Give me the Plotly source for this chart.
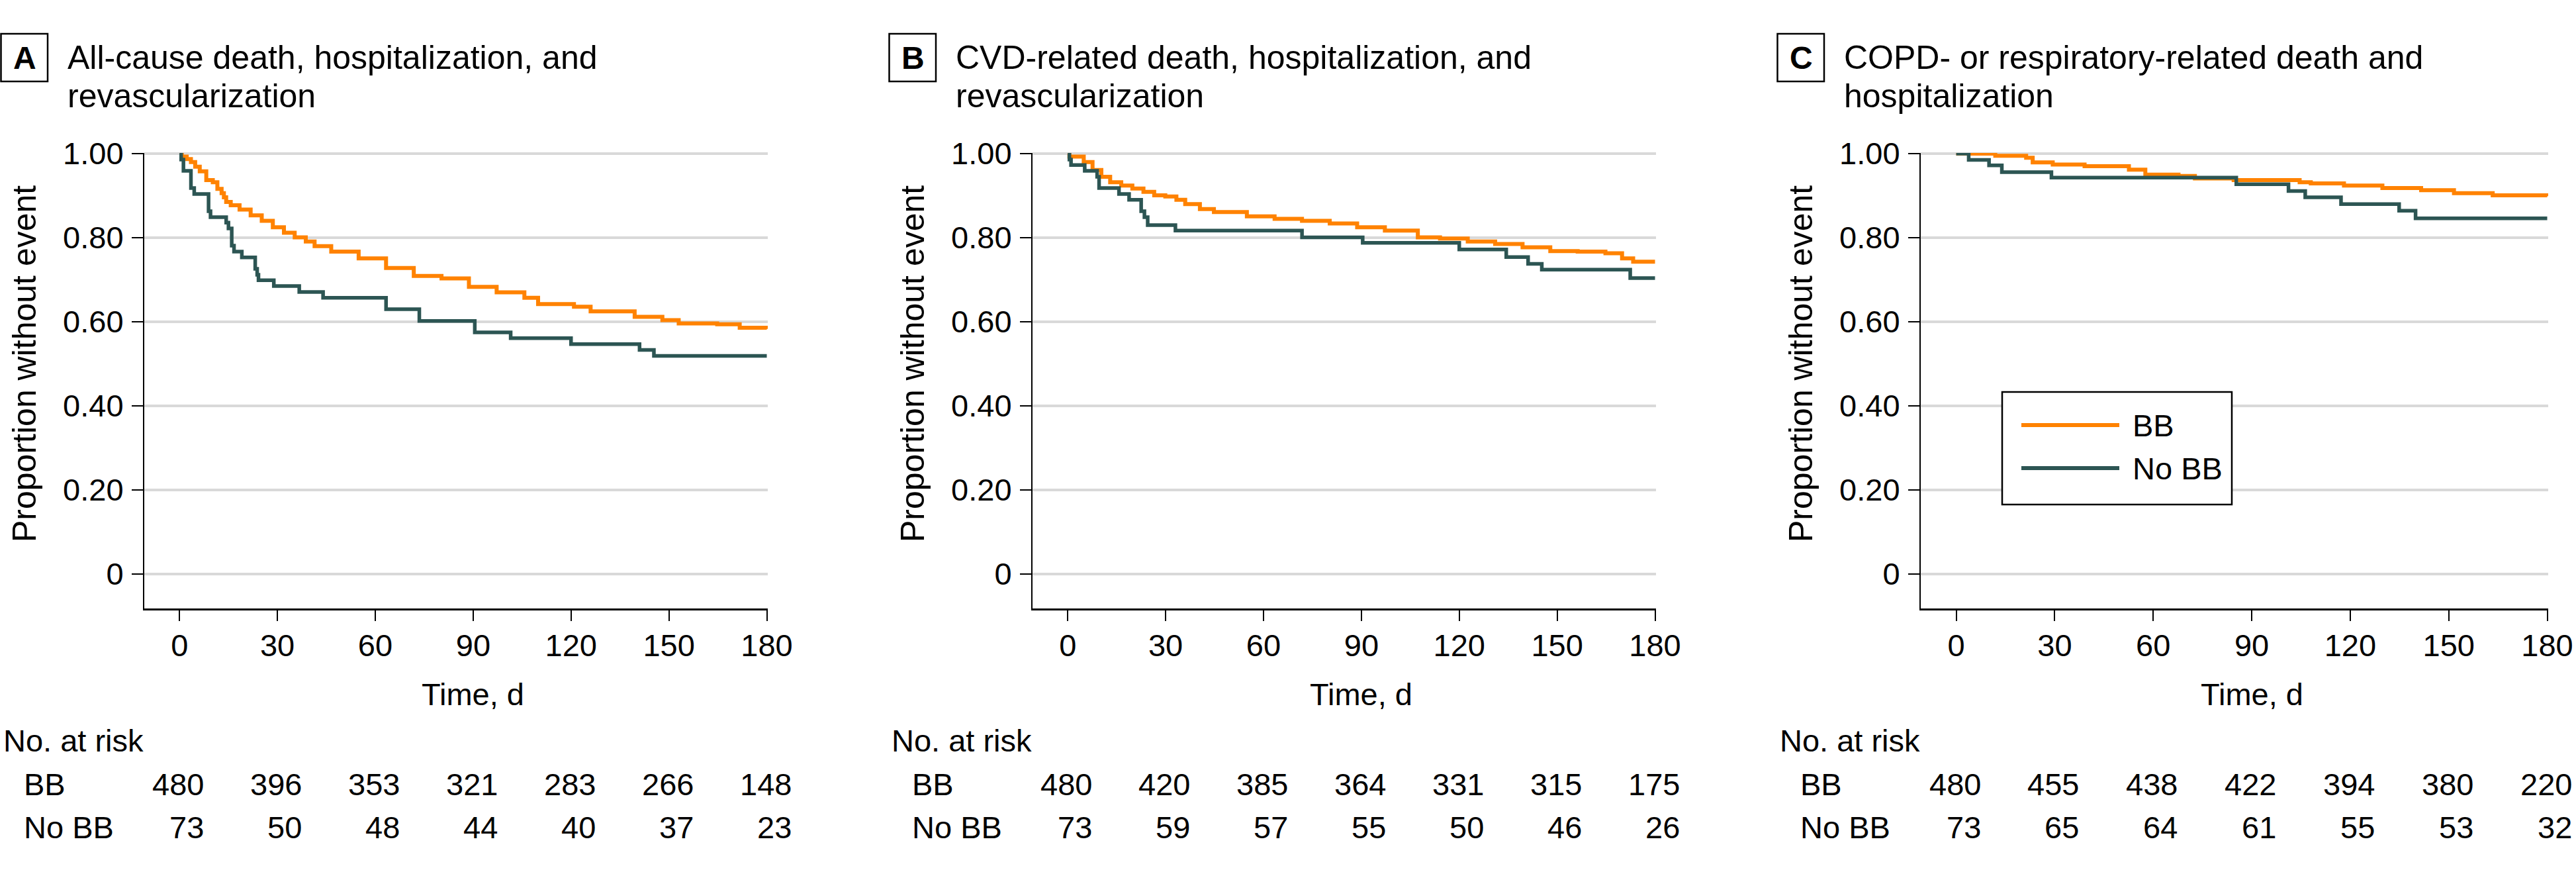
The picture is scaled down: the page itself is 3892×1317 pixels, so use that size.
import plotly.graph_objects as go

W, H = 3892, 1317

# ---------------- data ----------------
panel_letters = ["A", "B", "C"]
title_line1 = ["All-cause death, hospitalization, and",
               "CVD-related death, hospitalization, and",
               "COPD- or respiratory-related death and"]
title_line2 = ["revascularization", "revascularization", "hospitalization"]

group_names = ["BB", "No BB"]
time_ticks = [0, 30, 60, 90, 120, 150, 180]
y_tickvals = [0, 0.2, 0.4, 0.6, 0.8, 1.0]
y_ticktext = ["0", "0.20", "0.40", "0.60", "0.80", "1.00"]

# Panel A: all-cause death, hospitalization, and revascularization
A_bb_t = [0, 0.7, 2.2, 3.5, 4.8, 6.2, 8.2, 10.2, 11.6, 12.9, 13.6, 14.3, 15.7, 18.4, 21.8, 25.2,
          28.6, 32.0, 35.3, 38.7, 41.4, 46.5, 54.9, 63.3, 71.8, 80.3, 88.7, 97.2, 105.7, 109.9,
          120.9, 126.0, 139.5, 148.0, 153.0, 164.8, 171.7, 180]
A_bb_s = [1.0, 0.993, 0.987, 0.980, 0.969, 0.958, 0.937, 0.932, 0.916, 0.906, 0.896, 0.885, 0.877,
          0.867, 0.853, 0.840, 0.825, 0.812, 0.801, 0.791, 0.780, 0.767, 0.751, 0.728, 0.709, 0.703,
          0.683, 0.670, 0.657, 0.642, 0.636, 0.625, 0.612, 0.604, 0.596, 0.594, 0.586, 0.583]
A_nobb_t = [0, 0.5, 1.2, 3.5, 4.5, 8.9, 9.5, 14.3, 15.0, 16.0, 16.7, 19.1, 23.2, 23.8, 24.2, 28.9,
            36.7, 44.0, 63.3, 73.5, 90.5, 101.5, 120.0, 141.0, 145.4, 180]
A_nobb_s = [1.0, 0.986, 0.959, 0.918, 0.904, 0.863, 0.849, 0.836, 0.822, 0.781, 0.767, 0.753, 0.726,
            0.712, 0.699, 0.685, 0.671, 0.657, 0.630, 0.602, 0.575, 0.561, 0.547, 0.533, 0.519, 0.519]

# Panel B: CVD-related death, hospitalization, and revascularization
B_bb_t = [0, 0.5, 4.9, 7.6, 10.3, 13.0, 16.4, 19.8, 23.2, 26.5, 29.9, 33.3, 36.0, 40.5, 44.8, 54.9,
          63.4, 71.8, 80.3, 88.7, 97.2, 107.3, 114.1, 122.6, 131.0, 139.4, 147.9, 156.3, 164.8,
          169.9, 173.3, 180]
B_bb_s = [1.0, 0.993, 0.980, 0.961, 0.945, 0.932, 0.924, 0.917, 0.909, 0.901, 0.898, 0.890, 0.880,
          0.868, 0.861, 0.851, 0.845, 0.840, 0.834, 0.825, 0.817, 0.801, 0.798, 0.791, 0.785, 0.777,
          0.768, 0.767, 0.763, 0.751, 0.743, 0.743]
B_nobb_t = [0, 0.5, 1.0, 5.2, 9.0, 9.6, 15.7, 18.8, 22.5, 23.5, 24.5, 33.0, 71.8, 90.4, 120.0,
            134.4, 141.1, 145.3, 172.4, 180]
B_nobb_s = [1.0, 0.986, 0.973, 0.959, 0.945, 0.918, 0.904, 0.890, 0.863, 0.849, 0.830, 0.817, 0.801,
            0.788, 0.772, 0.754, 0.738, 0.724, 0.704, 0.704]

# Panel C: COPD- or respiratory-related death and hospitalization
C_bb_t = [0, 11.9, 21.3, 23.3, 29.4, 39.1, 52.6, 57.6, 67.7, 72.7, 84.5, 104.6, 108.0, 118.1,
          129.8, 141.6, 151.6, 163.4, 180]
C_bb_s = [1.0, 0.995, 0.990, 0.979, 0.974, 0.970, 0.962, 0.950, 0.947, 0.941, 0.937, 0.932, 0.929,
          0.924, 0.918, 0.913, 0.906, 0.901, 0.899]
C_nobb_t = [0, 3.8, 10.0, 13.9, 29.0, 85.3, 101.2, 106.3, 117.2, 134.9, 139.9, 180]
C_nobb_s = [1.0, 0.985, 0.972, 0.956, 0.943, 0.927, 0.911, 0.896, 0.880, 0.864, 0.846, 0.846]

# Number at risk
risk_A_bb = [480, 396, 353, 321, 283, 266, 148]
risk_A_nobb = [73, 50, 48, 44, 40, 37, 23]
risk_B_bb = [480, 420, 385, 364, 331, 315, 175]
risk_B_nobb = [73, 59, 57, 55, 50, 46, 26]
risk_C_bb = [480, 455, 438, 422, 394, 380, 220]
risk_C_nobb = [73, 65, 64, 61, 55, 53, 32]

curves = [((A_bb_t, A_bb_s), (A_nobb_t, A_nobb_s)),
          ((B_bb_t, B_bb_s), (B_nobb_t, B_nobb_s)),
          ((C_bb_t, C_bb_s), (C_nobb_t, C_nobb_s))]
risks = [(risk_A_bb, risk_A_nobb), (risk_B_bb, risk_B_nobb), (risk_C_bb, risk_C_nobb)]

# ---------------- style ----------------
COL_BB = "#FF8200"
COL_NOBB = "#2C5553"
FONT = "Liberation Sans, Arial, Helvetica, sans-serif"
FS = 47
GRID = "#d9d9d9"


def px(x):
    return x / W


def py(y):
    return 1 - y / H


panel_x0 = [0, 1342, 2684]
axis_left = [218, 1560, 2902]
axis_right = [1160, 2502, 3850]
y_top, y_bot = 231, 919
xr = [-10.8, 180.3]
yr = [-0.0819, 1.0016]

fig = go.Figure()
annotations = []
shapes = []

for i in range(3):
    sfx = "" if i == 0 else str(i + 1)
    xa, ya = "x" + sfx, "y" + sfx
    (bt, bs), (nt, ns) = curves[i]
    fig.add_trace(go.Scatter(x=bt, y=bs, mode="lines", line=dict(color=COL_BB, width=6, shape="hv"),
                             name=group_names[0], xaxis=xa, yaxis=ya, showlegend=False))
    fig.add_trace(go.Scatter(x=nt, y=ns, mode="lines", line=dict(color=COL_NOBB, width=5.5, shape="hv"),
                             name=group_names[1], xaxis=xa, yaxis=ya, showlegend=False))

    fig.layout["xaxis" + sfx] = dict(
        domain=[px(axis_left[i]), px(axis_right[i])], range=xr, anchor=ya,
        tickvals=time_ticks, ticktext=[str(t) for t in time_ticks],
        ticks="outside", ticklen=16, tickwidth=2, tickcolor="black",
        showline=True, linecolor="black", linewidth=2.5, automargin=False,
        showgrid=False, zeroline=False, fixedrange=True, ticklabelstandoff=-3,
        tickfont=dict(family=FONT, size=FS, color="black"))
    fig.layout["yaxis" + sfx] = dict(
        domain=[py(y_bot), py(y_top)], range=yr, anchor=xa,
        tickvals=y_tickvals, ticktext=y_ticktext,
        ticks="outside", ticklen=17, tickwidth=2, tickcolor="black",
        showline=True, linecolor="black", linewidth=2, automargin=False,
        showgrid=True, gridcolor=GRID, gridwidth=4, zeroline=False, fixedrange=True,
        ticklabelstandoff=3,
        tickfont=dict(family=FONT, size=FS, color="black"))

    x0 = panel_x0[i]
    # panel letter box
    shapes.append(dict(type="rect", xref="paper", yref="paper",
                       x0=px(x0 + 1.5), x1=px(x0 + 72), y0=py(123), y1=py(51),
                       line=dict(color="black", width=2.5), fillcolor="rgba(0,0,0,0)"))
    annotations.append(dict(text="<b>%s</b>" % panel_letters[i], xref="paper", yref="paper",
                            x=px(x0 + 37), y=py(87), xanchor="center", yanchor="middle",
                            showarrow=False, font=dict(family=FONT, size=48, color="black")))
    # title lines
    annotations.append(dict(text=title_line1[i], xref="paper", yref="paper",
                            x=px(x0 + 100), y=py(87), xanchor="left", yanchor="middle",
                            showarrow=False, font=dict(family=FONT, size=50, color="black")))
    annotations.append(dict(text=title_line2[i], xref="paper", yref="paper",
                            x=px(x0 + 100), y=py(145), xanchor="left", yanchor="middle",
                            showarrow=False, font=dict(family=FONT, size=50, color="black")))
    # y-axis title
    annotations.append(dict(text="Proportion without event", xref="paper", yref="paper",
                            x=px(x0 + 37), y=py(550), xanchor="center", yanchor="middle",
                            textangle=-90, showarrow=False,
                            font=dict(family=FONT, size=50, color="black")))
    # x-axis title
    annotations.append(dict(text="Time, d", xref=xa, yref="paper", x=90, y=py(1048),
                            xanchor="center", yanchor="middle", showarrow=False,
                            font=dict(family=FONT, size=FS, color="black")))
    # number at risk table
    annotations.append(dict(text="No. at risk", xref="paper", yref="paper", x=px(x0 + 3), y=py(1118),
                            xanchor="left", yanchor="middle", showarrow=False,
                            font=dict(family=FONT, size=FS, color="black")))
    for r, (lab, vals) in enumerate(zip(group_names, risks[i])):
        yy = py(1184 + 65 * r)
        annotations.append(dict(text=lab, xref="paper", yref="paper", x=px(x0 + 34), y=yy,
                                xanchor="left", yanchor="middle", showarrow=False,
                                font=dict(family=FONT, size=FS, color="black")))
        for t, v in zip(time_ticks, vals):
            annotations.append(dict(text=str(v), xref=xa, yref="paper", x=t, y=yy, xshift=39,
                                    xanchor="right", yanchor="middle", showarrow=False,
                                    font=dict(family=FONT, size=FS, color="black")))

# legend (panel C)
shapes.append(dict(type="rect", xref="paper", yref="paper", x0=px(3025), x1=px(3372),
                   y0=py(762), y1=py(592), line=dict(color="black", width=2.5), fillcolor="white",
                   layer="above"))
for r, (lab, col) in enumerate(zip(group_names, [COL_BB, COL_NOBB])):
    yy = 642 + 65 * r
    shapes.append(dict(type="line", xref="paper", yref="paper", x0=px(3054), x1=px(3202),
                       y0=py(yy), y1=py(yy), line=dict(color=col, width=6), layer="above"))
    annotations.append(dict(text=lab, xref="paper", yref="paper", x=px(3220), y=py(yy),
                            xanchor="left", yanchor="middle", showarrow=False,
                            font=dict(family=FONT, size=FS, color="black")))

fig.update_layout(width=W, height=H, autosize=False,
                  margin=dict(l=0, r=0, t=0, b=0, pad=0),
                  paper_bgcolor="white", plot_bgcolor="white",
                  font=dict(family=FONT, size=FS, color="black"),
                  annotations=annotations, shapes=shapes, showlegend=False)

fig.write_html("out.html", post_script="document.body.style.margin='0px';",
               config={"displayModeBar": False})
